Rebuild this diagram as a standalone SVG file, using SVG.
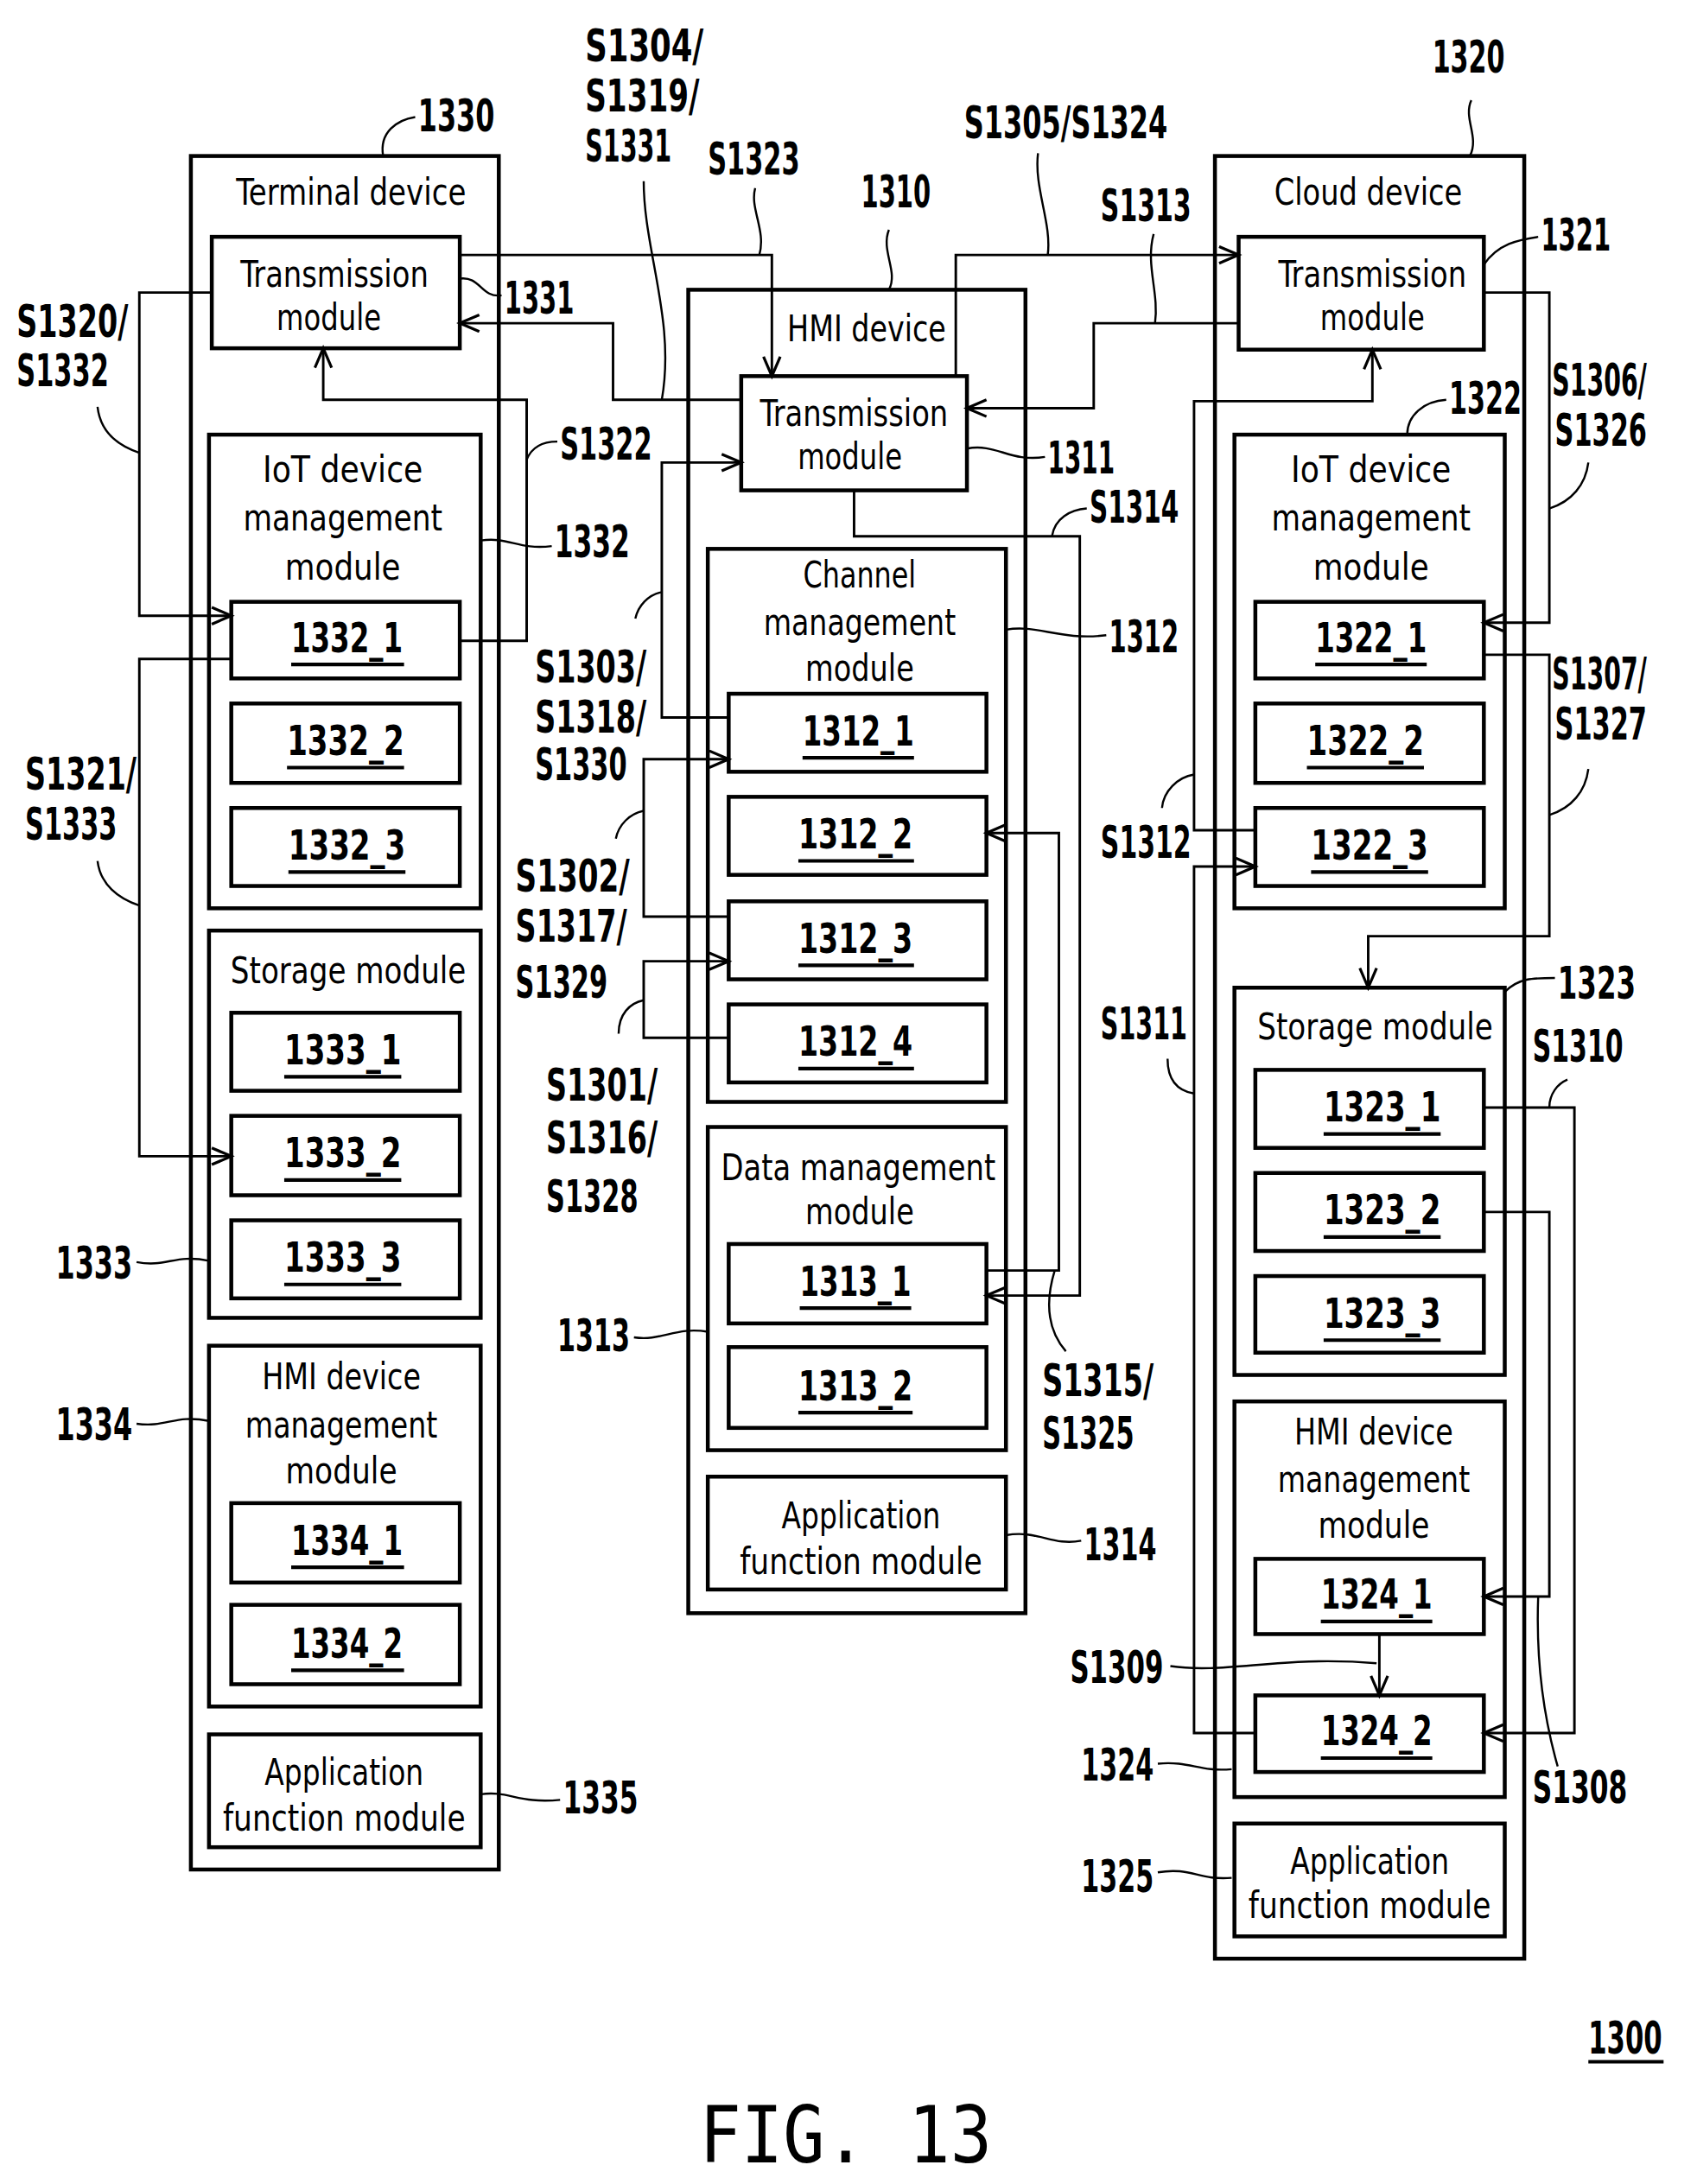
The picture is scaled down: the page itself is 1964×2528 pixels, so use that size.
<svg xmlns="http://www.w3.org/2000/svg" width="1964" height="2528" viewBox="0 0 1964 2528">
<style>
.b{fill:none;stroke:#000;stroke-width:2.8}
.c{fill:none;stroke:#000;stroke-width:1.8}
.ca{fill:none;stroke:#000;stroke-width:1.8;marker-end:url(#ar)}
.l{fill:none;stroke:#000;stroke-width:1.5}
.t{font-family:"DejaVu Sans Condensed","DejaVu Sans",sans-serif;font-size:26px;text-anchor:middle}
.id{font-family:"DejaVu Sans Condensed","DejaVu Sans",sans-serif;font-size:30px;font-weight:bold;text-anchor:middle}
.n{font-family:"DejaVu Sans Condensed","DejaVu Sans",sans-serif;font-size:32px;font-weight:bold}
.u{stroke:#000;stroke-width:2.6}
</style>
<defs>
<marker id="ar" markerUnits="userSpaceOnUse" markerWidth="20" markerHeight="16" refX="15" refY="7" orient="auto" viewBox="0 0 20 16">
<path d="M1,1 L15,7 L1,13" fill="none" stroke="#000" stroke-width="2"/>
</marker>
</defs>
<rect width="1964" height="2528" fill="#fff"/>
<g transform="scale(1.6125)">
<g id="n1330">
<rect class="b" x="137" y="112" width="221" height="1230"/>
<text class="t" x="252" y="147" textLength="165" lengthAdjust="spacingAndGlyphs">Terminal device</text>
<text class="n" x="300" y="94" textLength="55" lengthAdjust="spacingAndGlyphs">1330</text>
<path class="l" d="M275,112 C272,95 285,86 298,84"/>
</g>
<g id="n1331">
<rect class="b" x="152" y="170" width="178" height="80"/>
<text class="t" x="240" y="206" textLength="135" lengthAdjust="spacingAndGlyphs">Transmission</text>
<text class="t" x="236" y="237" textLength="75" lengthAdjust="spacingAndGlyphs">module</text>
<text class="n" x="362" y="225" textLength="50" lengthAdjust="spacingAndGlyphs">1331</text>
<path class="l" d="M330,200 C345,198 345,214 360,212"/>
</g>
<g id="n1332">
<rect class="b" x="150" y="312" width="195" height="340"/>
<text class="t" x="246" y="346" textLength="115" lengthAdjust="spacingAndGlyphs">IoT device</text>
<text class="t" x="246" y="381" textLength="143" lengthAdjust="spacingAndGlyphs">management</text>
<text class="t" x="246" y="416" textLength="83" lengthAdjust="spacingAndGlyphs">module</text>
<text class="n" x="398" y="400" textLength="54" lengthAdjust="spacingAndGlyphs">1332</text>
<path class="l" d="M345,388 C365,385 372,395 396,392"/>
</g>
<g id="n1332_1"><rect class="b" x="166" y="432" width="164" height="55"/><text class="id" x="249" y="468" textLength="80" lengthAdjust="spacingAndGlyphs">1332_1</text><line class="u" x1="209" y1="477" x2="290" y2="477"/></g>
<g id="n1332_2"><rect class="b" x="166" y="505" width="164" height="57"/><text class="id" x="248" y="542" textLength="84" lengthAdjust="spacingAndGlyphs">1332_2</text><line class="u" x1="206" y1="551" x2="290" y2="551"/></g>
<g id="n1332_3"><rect class="b" x="166" y="580" width="164" height="56"/><text class="id" x="249" y="617" textLength="84" lengthAdjust="spacingAndGlyphs">1332_3</text><line class="u" x1="207" y1="626" x2="291" y2="626"/></g>
<g id="n1333">
<rect class="b" x="150" y="668" width="195" height="278"/>
<text class="t" x="250" y="706" textLength="169" lengthAdjust="spacingAndGlyphs">Storage module</text>
<text class="n" x="40" y="918" textLength="55" lengthAdjust="spacingAndGlyphs">1333</text>
<path class="l" d="M98,906 C120,910 125,900 150,905"/>
</g>
<g id="n1333_1"><rect class="b" x="166" y="727" width="164" height="56"/><text class="id" x="246" y="764" textLength="84" lengthAdjust="spacingAndGlyphs">1333_1</text><line class="u" x1="204" y1="773" x2="288" y2="773"/></g>
<g id="n1333_2"><rect class="b" x="166" y="801" width="164" height="57"/><text class="id" x="246" y="838" textLength="84" lengthAdjust="spacingAndGlyphs">1333_2</text><line class="u" x1="204" y1="847" x2="288" y2="847"/></g>
<g id="n1333_3"><rect class="b" x="166" y="876" width="164" height="56"/><text class="id" x="246" y="913" textLength="84" lengthAdjust="spacingAndGlyphs">1333_3</text><line class="u" x1="204" y1="922" x2="288" y2="922"/></g>
<g id="n1334">
<rect class="b" x="150" y="966" width="195" height="259"/>
<text class="t" x="245" y="997" textLength="114" lengthAdjust="spacingAndGlyphs">HMI device</text>
<text class="t" x="245" y="1032" textLength="138" lengthAdjust="spacingAndGlyphs">management</text>
<text class="t" x="245" y="1065" textLength="80" lengthAdjust="spacingAndGlyphs">module</text>
<text class="n" x="40" y="1034" textLength="55" lengthAdjust="spacingAndGlyphs">1334</text>
<path class="l" d="M98,1022 C120,1025 125,1015 150,1020"/>
</g>
<g id="n1334_1"><rect class="b" x="166" y="1079" width="164" height="57"/><text class="id" x="249" y="1116" textLength="80" lengthAdjust="spacingAndGlyphs">1334_1</text><line class="u" x1="209" y1="1125" x2="290" y2="1125"/></g>
<g id="n1334_2"><rect class="b" x="166" y="1152" width="164" height="57"/><text class="id" x="249" y="1190" textLength="80" lengthAdjust="spacingAndGlyphs">1334_2</text><line class="u" x1="209" y1="1199" x2="290" y2="1199"/></g>
<g id="n1335">
<rect class="b" x="150" y="1245" width="195" height="81"/>
<text class="t" x="247" y="1281" textLength="114" lengthAdjust="spacingAndGlyphs">Application</text>
<text class="t" x="247" y="1314" textLength="174" lengthAdjust="spacingAndGlyphs">function module</text>
<text class="n" x="404" y="1302" textLength="54" lengthAdjust="spacingAndGlyphs">1335</text>
<path class="l" d="M345,1288 C365,1285 372,1295 402,1292"/>
</g>

<g id="n1310">
<rect class="b" x="494" y="208" width="242" height="950"/>
<text class="t" x="622" y="245" textLength="114" lengthAdjust="spacingAndGlyphs">HMI device</text>
<text class="n" x="618" y="149" textLength="50" lengthAdjust="spacingAndGlyphs">1310</text>
<path class="l" d="M638,208 C645,195 632,180 638,165"/>
</g>
<g id="n1311">
<rect class="b" x="532" y="270" width="162" height="82"/>
<text class="t" x="613" y="306" textLength="135" lengthAdjust="spacingAndGlyphs">Transmission</text>
<text class="t" x="610" y="337" textLength="75" lengthAdjust="spacingAndGlyphs">module</text>
<text class="n" x="752" y="340" textLength="48" lengthAdjust="spacingAndGlyphs">1311</text>
<path class="l" d="M694,322 C715,318 725,332 750,328"/>
</g>
<g id="n1312">
<rect class="b" x="508" y="394" width="214" height="397"/>
<text class="t" x="617" y="422" textLength="81" lengthAdjust="spacingAndGlyphs">Channel</text>
<text class="t" x="617" y="456" textLength="138" lengthAdjust="spacingAndGlyphs">management</text>
<text class="t" x="617" y="489" textLength="78" lengthAdjust="spacingAndGlyphs">module</text>
<text class="n" x="796" y="468" textLength="50" lengthAdjust="spacingAndGlyphs">1312</text>
<path class="l" d="M722,452 C745,448 760,460 794,456"/>
</g>
<g id="n1312_1"><rect class="b" x="523" y="498" width="185" height="56"/><text class="id" x="616" y="535" textLength="80" lengthAdjust="spacingAndGlyphs">1312_1</text><line class="u" x1="576" y1="544" x2="656" y2="544"/></g>
<g id="n1312_2"><rect class="b" x="523" y="572" width="185" height="56"/><text class="id" x="614" y="609" textLength="82" lengthAdjust="spacingAndGlyphs">1312_2</text><line class="u" x1="573" y1="618" x2="656" y2="618"/></g>
<g id="n1312_3"><rect class="b" x="523" y="647" width="185" height="56"/><text class="id" x="614" y="684" textLength="82" lengthAdjust="spacingAndGlyphs">1312_3</text><line class="u" x1="573" y1="693" x2="656" y2="693"/></g>
<g id="n1312_4"><rect class="b" x="523" y="721" width="185" height="56"/><text class="id" x="614" y="758" textLength="82" lengthAdjust="spacingAndGlyphs">1312_4</text><line class="u" x1="573" y1="767" x2="656" y2="767"/></g>
<g id="n1313">
<rect class="b" x="508" y="809" width="214" height="232"/>
<text class="t" x="616" y="847" textLength="197" lengthAdjust="spacingAndGlyphs">Data management</text>
<text class="t" x="617" y="879" textLength="78" lengthAdjust="spacingAndGlyphs">module</text>
<text class="n" x="400" y="970" textLength="52" lengthAdjust="spacingAndGlyphs">1313</text>
<path class="l" d="M455,960 C475,963 485,952 508,956"/>
</g>
<g id="n1313_1"><rect class="b" x="523" y="893" width="185" height="57"/><text class="id" x="614" y="930" textLength="80" lengthAdjust="spacingAndGlyphs">1313_1</text><line class="u" x1="574" y1="939" x2="654" y2="939"/></g>
<g id="n1313_2"><rect class="b" x="523" y="967" width="185" height="58"/><text class="id" x="614" y="1005" textLength="82" lengthAdjust="spacingAndGlyphs">1313_2</text><line class="u" x1="573" y1="1014" x2="655" y2="1014"/></g>
<g id="n1314">
<rect class="b" x="508" y="1060" width="214" height="81"/>
<text class="t" x="618" y="1097" textLength="114" lengthAdjust="spacingAndGlyphs">Application</text>
<text class="t" x="618" y="1130" textLength="174" lengthAdjust="spacingAndGlyphs">function module</text>
<text class="n" x="778" y="1120" textLength="52" lengthAdjust="spacingAndGlyphs">1314</text>
<path class="l" d="M722,1102 C745,1098 755,1110 776,1106"/>
</g>

<g id="n1320">
<rect class="b" x="872" y="112" width="222" height="1294"/>
<text class="t" x="982" y="147" textLength="135" lengthAdjust="spacingAndGlyphs">Cloud device</text>
<text class="n" x="1028" y="52" textLength="52" lengthAdjust="spacingAndGlyphs">1320</text>
<path class="l" d="M1055,112 C1062,98 1050,85 1056,72"/>
</g>
<g id="n1321">
<rect class="b" x="889" y="170" width="176" height="81"/>
<text class="t" x="985" y="206" textLength="135" lengthAdjust="spacingAndGlyphs">Transmission</text>
<text class="t" x="985" y="237" textLength="75" lengthAdjust="spacingAndGlyphs">module</text>
<text class="n" x="1106" y="180" textLength="50" lengthAdjust="spacingAndGlyphs">1321</text>
<path class="l" d="M1065,190 C1075,175 1090,172 1104,170"/>
</g>
<g id="n1322">
<rect class="b" x="886" y="312" width="194" height="340"/>
<text class="t" x="984" y="346" textLength="115" lengthAdjust="spacingAndGlyphs">IoT device</text>
<text class="t" x="984" y="381" textLength="143" lengthAdjust="spacingAndGlyphs">management</text>
<text class="t" x="984" y="416" textLength="83" lengthAdjust="spacingAndGlyphs">module</text>
<text class="n" x="1040" y="297" textLength="52" lengthAdjust="spacingAndGlyphs">1322</text>
<path class="l" d="M1010,312 C1010,298 1022,288 1038,287"/>
</g>
<g id="n1322_1"><rect class="b" x="901" y="432" width="164" height="55"/><text class="id" x="984" y="468" textLength="80" lengthAdjust="spacingAndGlyphs">1322_1</text><line class="u" x1="944" y1="477" x2="1024" y2="477"/></g>
<g id="n1322_2"><rect class="b" x="901" y="505" width="164" height="57"/><text class="id" x="980" y="542" textLength="84" lengthAdjust="spacingAndGlyphs">1322_2</text><line class="u" x1="938" y1="551" x2="1022" y2="551"/></g>
<g id="n1322_3"><rect class="b" x="901" y="580" width="164" height="56"/><text class="id" x="983" y="617" textLength="84" lengthAdjust="spacingAndGlyphs">1322_3</text><line class="u" x1="941" y1="626" x2="1025" y2="626"/></g>
<g id="n1323">
<rect class="b" x="886" y="709" width="194" height="278"/>
<text class="t" x="987" y="746" textLength="169" lengthAdjust="spacingAndGlyphs">Storage module</text>
<text class="n" x="1118" y="717" textLength="56" lengthAdjust="spacingAndGlyphs">1323</text>
<path class="l" d="M1080,712 C1090,702 1100,702 1116,702"/>
</g>
<g id="n1323_1"><rect class="b" x="901" y="768" width="164" height="56"/><text class="id" x="992" y="805" textLength="84" lengthAdjust="spacingAndGlyphs">1323_1</text><line class="u" x1="950" y1="814" x2="1034" y2="814"/></g>
<g id="n1323_2"><rect class="b" x="901" y="842" width="164" height="56"/><text class="id" x="992" y="879" textLength="84" lengthAdjust="spacingAndGlyphs">1323_2</text><line class="u" x1="950" y1="888" x2="1034" y2="888"/></g>
<g id="n1323_3"><rect class="b" x="901" y="916" width="164" height="55"/><text class="id" x="992" y="953" textLength="84" lengthAdjust="spacingAndGlyphs">1323_3</text><line class="u" x1="950" y1="962" x2="1034" y2="962"/></g>
<g id="n1324">
<rect class="b" x="886" y="1006" width="194" height="284"/>
<text class="t" x="986" y="1037" textLength="114" lengthAdjust="spacingAndGlyphs">HMI device</text>
<text class="t" x="986" y="1071" textLength="138" lengthAdjust="spacingAndGlyphs">management</text>
<text class="t" x="986" y="1104" textLength="80" lengthAdjust="spacingAndGlyphs">module</text>
<text class="n" x="776" y="1278" textLength="52" lengthAdjust="spacingAndGlyphs">1324</text>
<path class="l" d="M831,1266 C855,1264 860,1272 884,1270"/>
</g>
<g id="n1324_1"><rect class="b" x="901" y="1119" width="164" height="54"/><text class="id" x="988" y="1155" textLength="80" lengthAdjust="spacingAndGlyphs">1324_1</text><line class="u" x1="948" y1="1164" x2="1028" y2="1164"/></g>
<g id="n1324_2"><rect class="b" x="901" y="1217" width="164" height="55"/><text class="id" x="988" y="1253" textLength="80" lengthAdjust="spacingAndGlyphs">1324_2</text><line class="u" x1="948" y1="1262" x2="1028" y2="1262"/></g>
<g id="n1325">
<rect class="b" x="886" y="1309" width="194" height="81"/>
<text class="t" x="983" y="1345" textLength="114" lengthAdjust="spacingAndGlyphs">Application</text>
<text class="t" x="983" y="1377" textLength="174" lengthAdjust="spacingAndGlyphs">function module</text>
<text class="n" x="776" y="1358" textLength="52" lengthAdjust="spacingAndGlyphs">1325</text>
<path class="l" d="M831,1344 C855,1340 860,1350 884,1348"/>
</g>

<g id="connectors">
<path class="ca" d="M330,183 H554 V270"/>
<path class="ca" d="M532,287 H440 V232 H330"/>
<path class="ca" d="M330,460 H378 V287 H232 V250"/>
<path class="ca" d="M152,210 H100 V442 H166"/>
<path class="ca" d="M166,473 H100 V830 H166"/>
<path class="ca" d="M686,270 V183 H889"/>
<path class="ca" d="M889,232 H785 V293 H694"/>
<path class="ca" d="M523,515 H475 V332 H532"/>
<path class="ca" d="M523,658 H462 V545 H523"/>
<path class="ca" d="M523,745 H462 V690 H523"/>
<path class="ca" d="M613,352 V385 H775 V930 H708"/>
<path class="ca" d="M708,912 H760 V598 H708"/>
<path class="ca" d="M1065,210 H1112 V447 H1065"/>
<path class="ca" d="M1065,470 H1112 V672 H982 V709"/>
<path class="ca" d="M901,596 H857 V288 H985 V251"/>
<path class="ca" d="M901,1244 H857 V622 H901"/>
<path class="ca" d="M1065,795 H1130 V1244 H1065"/>
<path class="ca" d="M1065,870 H1112 V1146 H1065"/>
<path class="ca" d="M990,1173 V1217"/>
</g>

<g id="labels">
<text class="n" x="508" y="125" textLength="66" lengthAdjust="spacingAndGlyphs">S1323</text>
<path class="l" d="M545,183 C550,165 538,150 542,135"/>
<text class="n" x="420" y="44" textLength="85" lengthAdjust="spacingAndGlyphs">S1304/</text>
<text class="n" x="420" y="80" textLength="82" lengthAdjust="spacingAndGlyphs">S1319/</text>
<text class="n" x="420" y="116" textLength="62" lengthAdjust="spacingAndGlyphs">S1331</text>
<path class="l" d="M475,287 C485,230 462,180 462,130"/>
<text class="n" x="402" y="330" textLength="66" lengthAdjust="spacingAndGlyphs">S1322</text>
<path class="l" d="M378,330 C382,320 390,317 400,317"/>
<text class="n" x="12" y="242" textLength="80" lengthAdjust="spacingAndGlyphs">S1320/</text>
<text class="n" x="12" y="277" textLength="66" lengthAdjust="spacingAndGlyphs">S1332</text>
<path class="l" d="M100,325 C85,320 72,310 70,292"/>
<text class="n" x="18" y="567" textLength="80" lengthAdjust="spacingAndGlyphs">S1321/</text>
<text class="n" x="18" y="603" textLength="66" lengthAdjust="spacingAndGlyphs">S1333</text>
<path class="l" d="M100,650 C85,645 72,635 70,618"/>
<text class="n" x="692" y="99" textLength="146" lengthAdjust="spacingAndGlyphs">S1305/S1324</text>
<path class="l" d="M752,183 C755,160 742,135 745,110"/>
<text class="n" x="790" y="159" textLength="65" lengthAdjust="spacingAndGlyphs">S1313</text>
<path class="l" d="M829,232 C832,210 822,190 828,168"/>
<text class="n" x="384" y="490" textLength="80" lengthAdjust="spacingAndGlyphs">S1303/</text>
<text class="n" x="384" y="526" textLength="80" lengthAdjust="spacingAndGlyphs">S1318/</text>
<text class="n" x="384" y="560" textLength="66" lengthAdjust="spacingAndGlyphs">S1330</text>
<path class="l" d="M475,425 C465,427 458,435 456,444"/>
<text class="n" x="370" y="640" textLength="82" lengthAdjust="spacingAndGlyphs">S1302/</text>
<text class="n" x="370" y="676" textLength="80" lengthAdjust="spacingAndGlyphs">S1317/</text>
<text class="n" x="370" y="716" textLength="66" lengthAdjust="spacingAndGlyphs">S1329</text>
<path class="l" d="M462,582 C452,584 444,592 442,602"/>
<text class="n" x="392" y="790" textLength="80" lengthAdjust="spacingAndGlyphs">S1301/</text>
<text class="n" x="392" y="828" textLength="80" lengthAdjust="spacingAndGlyphs">S1316/</text>
<text class="n" x="392" y="870" textLength="66" lengthAdjust="spacingAndGlyphs">S1328</text>
<path class="l" d="M462,718 C452,720 444,728 444,742"/>
<text class="n" x="782" y="375" textLength="64" lengthAdjust="spacingAndGlyphs">S1314</text>
<path class="l" d="M755,385 C757,372 768,366 780,365"/>
<text class="n" x="748" y="1002" textLength="80" lengthAdjust="spacingAndGlyphs">S1315/</text>
<text class="n" x="748" y="1040" textLength="66" lengthAdjust="spacingAndGlyphs">S1325</text>
<path class="l" d="M757,912 C750,935 752,955 765,970"/>
<text class="n" x="1114" y="284" textLength="68" lengthAdjust="spacingAndGlyphs">S1306/</text>
<text class="n" x="1116" y="320" textLength="66" lengthAdjust="spacingAndGlyphs">S1326</text>
<path class="l" d="M1112,365 C1128,360 1138,348 1140,332"/>
<text class="n" x="1114" y="495" textLength="68" lengthAdjust="spacingAndGlyphs">S1307/</text>
<text class="n" x="1116" y="531" textLength="66" lengthAdjust="spacingAndGlyphs">S1327</text>
<path class="l" d="M1112,585 C1128,580 1138,568 1140,552"/>
<text class="n" x="790" y="616" textLength="65" lengthAdjust="spacingAndGlyphs">S1312</text>
<path class="l" d="M857,556 C845,558 835,568 834,580"/>
<text class="n" x="790" y="746" textLength="62" lengthAdjust="spacingAndGlyphs">S1311</text>
<path class="l" d="M857,785 C845,783 838,775 838,760"/>
<text class="n" x="1100" y="762" textLength="65" lengthAdjust="spacingAndGlyphs">S1310</text>
<path class="l" d="M1112,795 C1112,785 1118,778 1125,775"/>
<text class="n" x="1100" y="1294" textLength="68" lengthAdjust="spacingAndGlyphs">S1308</text>
<path class="l" d="M1104,1146 C1102,1200 1110,1240 1118,1268"/>
<text class="n" x="768" y="1208" textLength="67" lengthAdjust="spacingAndGlyphs">S1309</text>
<path class="l" d="M840,1196 C880,1202 920,1188 988,1194"/>
<text class="n" x="1140" y="1474" textLength="53" lengthAdjust="spacingAndGlyphs">1300</text>
<line class="u" x1="1140" y1="1480" x2="1194" y2="1480"/>
<text x="607" y="1552" style="font-family:'DejaVu Sans Mono','Liberation Mono',monospace;font-size:56px;text-anchor:middle" textLength="210" lengthAdjust="spacingAndGlyphs">FIG. 13</text>
</g>
</g>
</svg>
